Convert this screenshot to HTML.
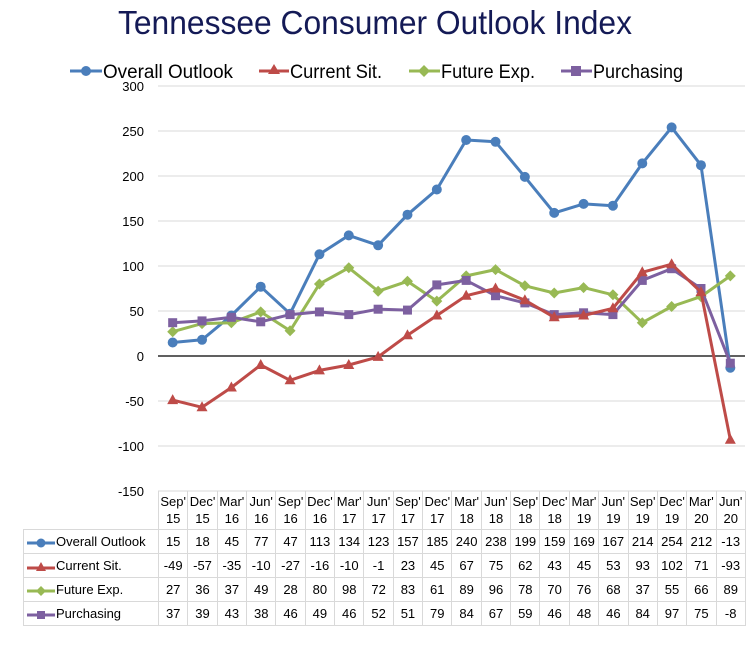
<!DOCTYPE html>
<html><head><meta charset="utf-8"><style>
body{margin:0;width:750px;height:670px;background:#fff;position:relative;overflow:hidden;font-family:"Liberation Sans",sans-serif;}
#t{position:absolute;left:23px;top:491px;border-collapse:collapse;table-layout:fixed;font-size:13px;color:#000;}
#t td{border:1px solid #d9d9d9;text-align:center;padding:0;height:23px;white-space:nowrap;}
#t tr.h td{height:38px;line-height:17px;border-top:none;}
#t tr.h td.e{border:none;border-bottom:1px solid #d9d9d9;}
#t td.l{text-align:left;padding-left:2px;}
svg{position:absolute;left:0;top:0;}
</style></head><body>
<svg width="750" height="670" id="s">
<text x="118" y="34" textLength="514" lengthAdjust="spacingAndGlyphs" font-size="33" fill="#141a56" font-family="Liberation Sans, sans-serif">Tennessee Consumer Outlook Index</text>
<g font-size="19" fill="#000" font-family="Liberation Sans, sans-serif">
<line x1="70" y1="71" x2="102" y2="71" stroke="#4a7ebb" stroke-width="3"/><circle cx="86" cy="71" r="5" fill="#4a7ebb"/>
<text x="103" y="78" textLength="130" lengthAdjust="spacingAndGlyphs">Overall Outlook</text>
<line x1="259" y1="71" x2="289" y2="71" stroke="#be4b48" stroke-width="3"/><polygon points="274,64 280,74 268,74" fill="#be4b48"/>
<text x="290" y="78" textLength="92" lengthAdjust="spacingAndGlyphs">Current Sit.</text>
<line x1="409" y1="71" x2="440" y2="71" stroke="#98b954" stroke-width="3"/><polygon points="424,65 430,71 424,77 418,71" fill="#98b954"/>
<text x="441" y="78" textLength="94" lengthAdjust="spacingAndGlyphs">Future Exp.</text>
<line x1="561" y1="71" x2="592" y2="71" stroke="#7d60a0" stroke-width="3"/><rect x="571" y="66" width="10" height="10" fill="#7d60a0"/>
<text x="593" y="78" textLength="90" lengthAdjust="spacingAndGlyphs">Purchasing</text>
</g>
<g font-size="13" fill="#000" text-anchor="end" font-family="Liberation Sans, sans-serif">
<text x="144" y="91">300</text><text x="144" y="136">250</text><text x="144" y="181">200</text>
<text x="144" y="226">150</text><text x="144" y="271">100</text><text x="144" y="316">50</text>
<text x="144" y="361">0</text><text x="144" y="406">-50</text><text x="144" y="451">-100</text><text x="144" y="496">-150</text>
</g>
<g id="grid" stroke="#d9d9d9" stroke-width="1"></g>
<line x1="158" y1="356" x2="745" y2="356" stroke="#000" stroke-width="1.2"/>
<g id="series"></g>
</svg>
<table id="t">
<colgroup><col style="width:135px"><col span="20" style="width:29.35px"></colgroup>
<tr class="h"><td class="e"></td><td>Sep'<br>15</td><td>Dec'<br>15</td><td>Mar'<br>16</td><td>Jun'<br>16</td><td>Sep'<br>16</td><td>Dec'<br>16</td><td>Mar'<br>17</td><td>Jun'<br>17</td><td>Sep'<br>17</td><td>Dec'<br>17</td><td>Mar'<br>18</td><td>Jun'<br>18</td><td>Sep'<br>18</td><td>Dec'<br>18</td><td>Mar'<br>19</td><td>Jun'<br>19</td><td>Sep'<br>19</td><td>Dec'<br>19</td><td>Mar'<br>20</td><td>Jun'<br>20</td></tr>
<tr><td class="l"><svg width="30" height="12" style="position:static;vertical-align:middle"><line x1="1" y1="6" x2="29" y2="6" stroke="#4a7ebb" stroke-width="3"/><circle cx="15" cy="6" r="4.5" fill="#4a7ebb"/></svg>Overall Outlook</td><td>15</td><td>18</td><td>45</td><td>77</td><td>47</td><td>113</td><td>134</td><td>123</td><td>157</td><td>185</td><td>240</td><td>238</td><td>199</td><td>159</td><td>169</td><td>167</td><td>214</td><td>254</td><td>212</td><td>-13</td></tr>
<tr><td class="l"><svg width="30" height="12" style="position:static;vertical-align:middle"><line x1="1" y1="7" x2="29" y2="7" stroke="#be4b48" stroke-width="3"/><polygon points="15,1 20,10 10,10" fill="#be4b48"/></svg>Current Sit.</td><td>-49</td><td>-57</td><td>-35</td><td>-10</td><td>-27</td><td>-16</td><td>-10</td><td>-1</td><td>23</td><td>45</td><td>67</td><td>75</td><td>62</td><td>43</td><td>45</td><td>53</td><td>93</td><td>102</td><td>71</td><td>-93</td></tr>
<tr><td class="l"><svg width="30" height="12" style="position:static;vertical-align:middle"><line x1="1" y1="6" x2="29" y2="6" stroke="#98b954" stroke-width="3"/><polygon points="15,1 20,6 15,11 10,6" fill="#98b954"/></svg>Future Exp.</td><td>27</td><td>36</td><td>37</td><td>49</td><td>28</td><td>80</td><td>98</td><td>72</td><td>83</td><td>61</td><td>89</td><td>96</td><td>78</td><td>70</td><td>76</td><td>68</td><td>37</td><td>55</td><td>66</td><td>89</td></tr>
<tr><td class="l"><svg width="30" height="12" style="position:static;vertical-align:middle"><line x1="1" y1="6" x2="29" y2="6" stroke="#7d60a0" stroke-width="3"/><rect x="11" y="2" width="8" height="8" fill="#7d60a0"/></svg>Purchasing</td><td>37</td><td>39</td><td>43</td><td>38</td><td>46</td><td>49</td><td>46</td><td>52</td><td>51</td><td>79</td><td>84</td><td>67</td><td>59</td><td>46</td><td>48</td><td>46</td><td>84</td><td>97</td><td>75</td><td>-8</td></tr>
</table>
<script>
var NS="http://www.w3.org/2000/svg";
function X(i){return 158+29.35*(i+0.5);}
function Y(v){return 356-v*0.9;}
var g=document.getElementById("grid");
[300,250,200,150,100,50,-50,-100,-150].forEach(function(v){var l=document.createElementNS(NS,"line");l.setAttribute("x1",158);l.setAttribute("x2",745);l.setAttribute("y1",Y(v));l.setAttribute("y2",Y(v));g.appendChild(l);});
var S=[
{c:"#4a7ebb",m:"c",d:[15,18,45,77,47,113,134,123,157,185,240,238,199,159,169,167,214,254,212,-13]},
{c:"#98b954",m:"d",d:[27,36,37,49,28,80,98,72,83,61,89,96,78,70,76,68,37,55,66,89]},
{c:"#7d60a0",m:"s",d:[37,39,43,38,46,49,46,52,51,79,84,67,59,46,48,46,84,97,75,-8]},
{c:"#be4b48",m:"t",d:[-49,-57,-35,-10,-27,-16,-10,-1,23,45,67,75,62,43,45,53,93,102,71,-93]}];
var sg=document.getElementById("series");
S.forEach(function(s){
 var p=document.createElementNS(NS,"polyline");
 p.setAttribute("points",s.d.map(function(v,i){return X(i)+","+Y(v);}).join(" "));
 p.setAttribute("fill","none");p.setAttribute("stroke",s.c);p.setAttribute("stroke-width","3");p.setAttribute("stroke-linejoin","round");
 sg.appendChild(p);
 s.d.forEach(function(v,i){var x=X(i),y=Y(v),e;
  if(s.m=="c"){e=document.createElementNS(NS,"circle");e.setAttribute("cx",x);e.setAttribute("cy",y);e.setAttribute("r",5);}
  else if(s.m=="s"){e=document.createElementNS(NS,"rect");e.setAttribute("x",x-4.5);e.setAttribute("y",y-4.5);e.setAttribute("width",9);e.setAttribute("height",9);}
  else if(s.m=="d"){e=document.createElementNS(NS,"polygon");e.setAttribute("points",x+","+(y-5.5)+" "+(x+5.5)+","+y+" "+x+","+(y+5.5)+" "+(x-5.5)+","+y);}
  else {e=document.createElementNS(NS,"polygon");e.setAttribute("points",x+","+(y-6)+" "+(x+5.5)+","+(y+4)+" "+(x-5.5)+","+(y+4));}
  e.setAttribute("fill",s.c);sg.appendChild(e);});
});
</script>
</body></html>
